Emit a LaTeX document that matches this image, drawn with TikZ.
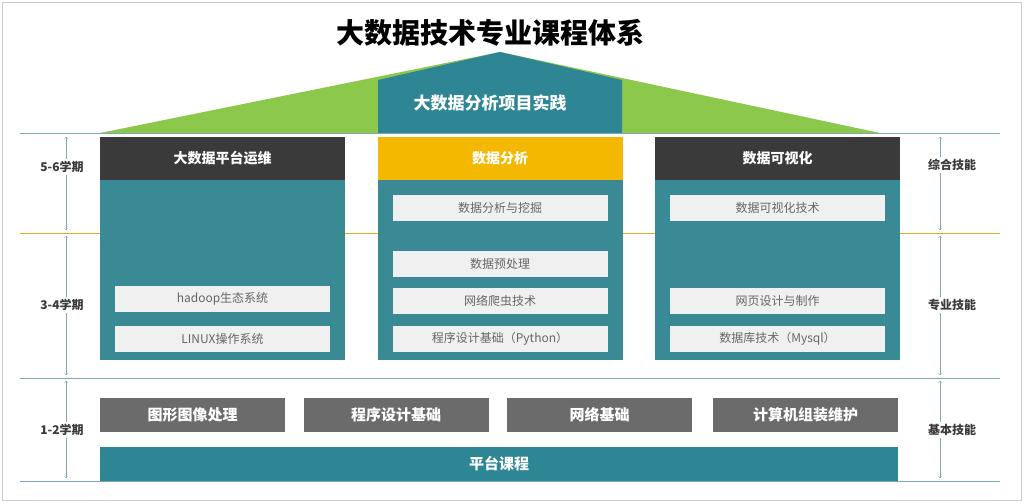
\documentclass[tikz,border=0pt]{standalone}
\usepackage{fontspec}
\newfontfamily\cjk{Noto Sans CJK SC}
\usetikzlibrary{positioning}
\definecolor{tealc}{HTML}{2E8593}
\definecolor{bodyc}{HTML}{3A8A96}
\definecolor{greenc}{HTML}{8CC84B}
\definecolor{darkc}{HTML}{3A3A3A}
\definecolor{yellowc}{HTML}{F5B800}
\definecolor{grayc}{HTML}{6B6B6B}
\definecolor{linec}{HTML}{7FA9AE}
\tikzset{
  head/.style={minimum width=245pt, minimum height=43pt, text=white, font=\cjk\bfseries\fontsize{14}{16}\selectfont, inner sep=0pt},
  body/.style={fill=bodyc, minimum width=245pt, minimum height=180pt, inner sep=0pt},
  course/.style={fill=gray!12, minimum width=215pt, minimum height=26pt, text=gray!80!black, font=\cjk\fontsize{12}{14}\selectfont, inner sep=0pt},
  basic/.style={fill=grayc, minimum width=185pt, minimum height=34pt, text=white, font=\cjk\bfseries\fontsize{15}{17}\selectfont, inner sep=0pt},
  side/.style={fill=white, text=darkc, font=\cjk\bfseries\fontsize{12}{14}\selectfont, inner sep=2pt},
  span/.style={<->, linec, thin}
}
\begin{document}
\begin{tikzpicture}[x=1pt,y=-1pt]
	\useasboundingbox (0,0) rectangle (1024,503);
	\draw[gray!40] (2,2) rectangle (1021,500);

	\coordinate (L) at (100,133);
	\coordinate (R) at (880,133);
	\coordinate (P) at (500,52);

	% roof
	\fill[greenc] (L) -- (P) -- (R) -- cycle;
	\fill[tealc] (378,133) -- (378,80) -- (P) -- (622,80) -- (622,133) -- cycle;
	\node[text=white, font=\cjk\bfseries\fontsize{17}{19}\selectfont] (proj) at (490,103) {大数据分析项目实践};
	\node[font=\cjk\bfseries\fontsize{28}{30}\selectfont] (title) at (490,33) {大数据技术专业课程体系};

	% level lines
	\draw[linec] (20,133) -- (1000,133);
	\draw[yellowc!80!gray] (20,233) -- (1000,233);
	\draw[linec] (20,378) -- (1000,378);
	\draw[linec] (20,481) -- (1000,481);

	% columns
	\node[body] (b1) at (222.5,270) {};
	\node[body] (b2) at (500,270) {};
	\node[body] (b3) at (777.5,270) {};
	\node[head, fill=darkc] (h1) at (222.5,158.5) {大数据平台运维};
	\node[head, fill=yellowc] (h2) at (500,158.5) {数据分析};
	\node[head, fill=darkc] (h3) at (777.5,158.5) {数据可视化};

	\node[course] (c11) at (222.5,298.5) {hadoop生态系统};
	\node[course] (c12) at (222.5,338.5) {LINUX操作系统};
	\node[course] (c21) at (500,208) {数据分析与挖掘};
	\node[course] (c22) at (500,263.5) {数据预处理};
	\node[course] (c23) at (500,301) {网络爬虫技术};
	\node[course] (c24) at (500,338.5) {程序设计基础（Python）};
	\node[course] (c31) at (777.5,208) {数据可视化技术};
	\node[course] (c32) at (777.5,301) {网页设计与制作};
	\node[course] (c33) at (777.5,338.5) {数据库技术（Mysql）};

	% basics
	\node[basic] (g1) at (192.5,415) {图形图像处理};
	\node[basic] (g2) at (396,415) {程序设计基础};
	\node[basic] (g3) at (599.5,415) {网络基础};
	\node[basic] (g4) at (805.5,415) {计算机组装维护};
	\node[fill=tealc, minimum width=798pt, minimum height=34pt, inner sep=0pt, text=white, font=\cjk\bfseries\fontsize{15}{17}\selectfont] (plat) at (499,464) {平台课程};

	% terms and skills
	\draw[span] (66,137) -- (66,230);
	\draw[span] (66,236) -- (66,375);
	\draw[span] (66,381) -- (66,478);
	\draw[span] (940,137) -- (940,230);
	\draw[span] (940,236) -- (940,375);
	\draw[span] (940,381) -- (940,478);
	\node[side] (t56) at (62,167) {5-6学期};
	\node[side] (t34) at (62,305) {3-4学期};
	\node[side] (t12) at (62,430) {1-2学期};
	\node[side] (s1) at (952,165) {综合技能};
	\node[side] (s2) at (952,305) {专业技能};
	\node[side] (s3) at (952,430) {基本技能};
\end{tikzpicture}
\end{document}
